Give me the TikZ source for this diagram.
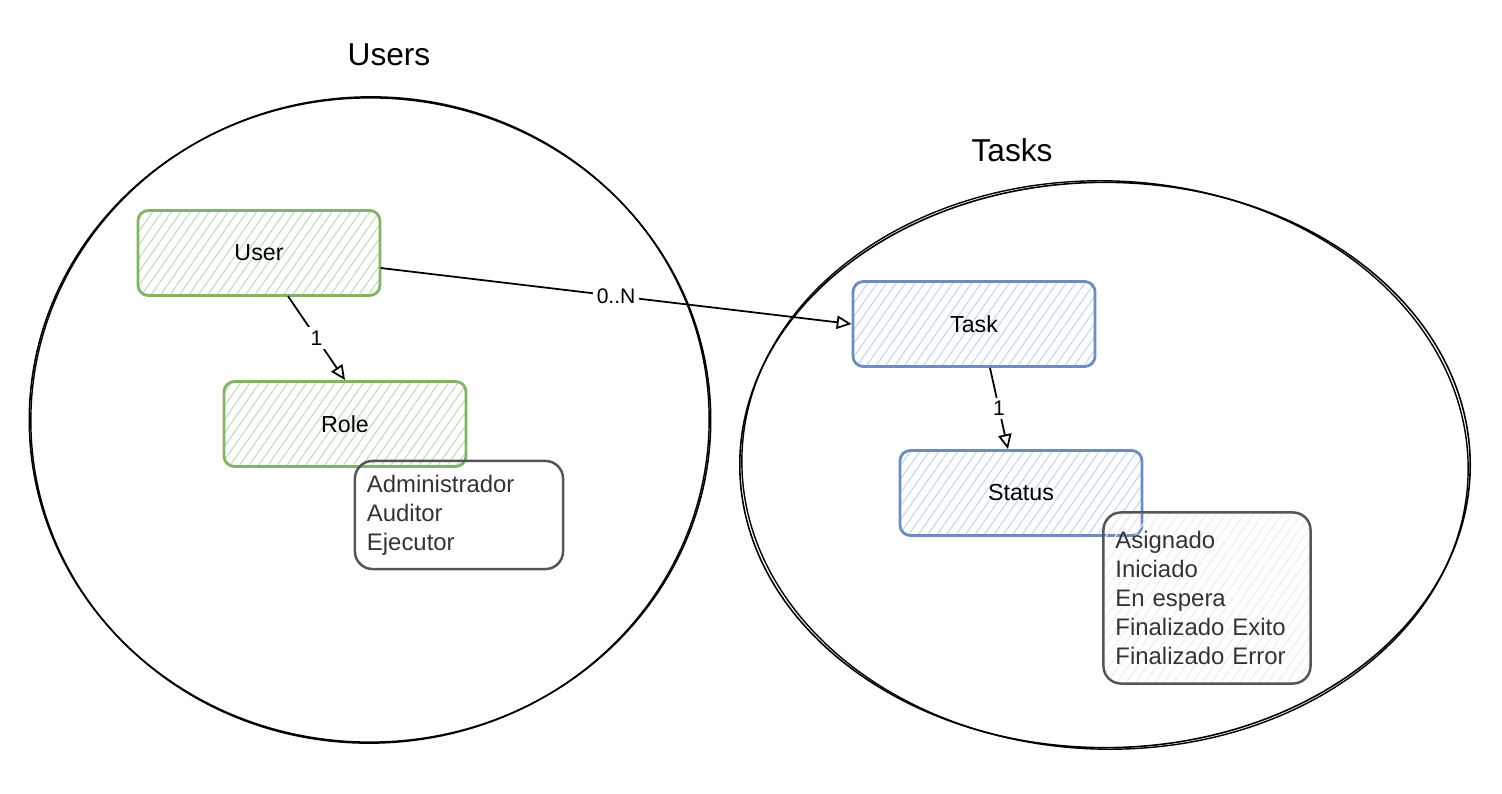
\documentclass[tikz,border=0pt]{standalone}
\usepackage{fontspec}
\setmainfont{Liberation Sans}
\usetikzlibrary{shapes.geometric,arrows.meta,patterns.meta}

\definecolor{usergreen}{HTML}{82B366}
\definecolor{userhatch}{HTML}{C4E0BE}
\definecolor{taskblue}{HTML}{6C8EBF}
\definecolor{taskhatch}{HTML}{C4DAF6}
\definecolor{listgray}{HTML}{555555}
\definecolor{listhatch}{HTML}{EDEDED}
\definecolor{listtext}{HTML}{333333}

\begin{document}
\begin{tikzpicture}
  [x=0.01cm, y=-0.01cm,
   every node/.style={inner sep=0pt},
   group/.style={ellipse, draw, line width=0.45pt},
   title/.style={font=\fontsize{9}{11}\selectfont},
   entity/.style={rectangle, rounded corners=3pt, line width=0.8pt,
                  minimum width=2.42cm, minimum height=0.85cm,
                  font=\fontsize{6.6}{8}\selectfont},
   userbox/.style={entity, draw=usergreen,
                   pattern={Lines[angle=55,distance=2.2pt,line width=0.35pt]},
                   pattern color=userhatch},
   taskbox/.style={entity, draw=taskblue,
                   pattern={Lines[angle=55,distance=2.2pt,line width=0.35pt]},
                   pattern color=taskhatch},
   valuelist/.style={rectangle, rounded corners=5pt, draw=listgray, line width=0.7pt,
                     inner xsep=0.12cm, align=left, text=listtext,
                     font=\fontsize{6.8}{8.2}\selectfont},
   link/.style={draw, line width=0.5pt, -{Triangle[open,length=4.2pt,width=3.8pt]}},
   card/.style={fill=white, inner sep=1pt, font=\fontsize{6}{7}\selectfont}]

  \useasboundingbox (0,0) rectangle (1502,794);

  % groups
  \node[group, minimum width=6.81cm, minimum height=6.44cm] (users) at (370,420) {};
  \draw[line width=0.4pt] (users.center) ellipse [x radius=3.39cm, y radius=3.23cm, rotate=1.5];
  \node[group, minimum width=7.30cm, minimum height=5.65cm] (tasks) at (1105,465) {};
  \draw[line width=0.4pt] (tasks.center) ellipse [x radius=3.63cm, y radius=2.84cm, rotate=-1.5];

  \node[title] (userstitle) at (389,55) {Users};
  \node[title] (taskstitle) at (1012,150) {Tasks};

  % entities
  \node[userbox] (user) at (259,253) {User};
  \node[userbox] (role) at (345,424) {Role};
  \node[taskbox] (task) at (974,324) {Task};
  \node[taskbox] (status) at (1021,493) {Status};

  % value lists
  \node[valuelist, text width=1.84cm, minimum height=1.08cm] (rolelist) at (459,515)
    {Administrador\\Auditor\\Ejecutor};
  \node[valuelist, text width=1.83cm, minimum height=1.71cm,
        pattern={Lines[angle=55,distance=2.2pt,line width=0.3pt]}, pattern color=listhatch]
    (statuslist) at (1207,598)
    {Asignado\\Iniciado\\En espera\\Finalizado Exito\\Finalizado Error};

  % relations
  \draw[link] ([yshift=-0.15cm]user.east) -- node[card] {0..N} (task.west);
  \draw[link] ([xshift=0.29cm]user.south) -- node[card] {1} (role.north);
  \draw[link] ([xshift=0.16cm]task.south) -- node[card] {1} ([xshift=-0.13cm]status.north);
\end{tikzpicture}
\end{document}
